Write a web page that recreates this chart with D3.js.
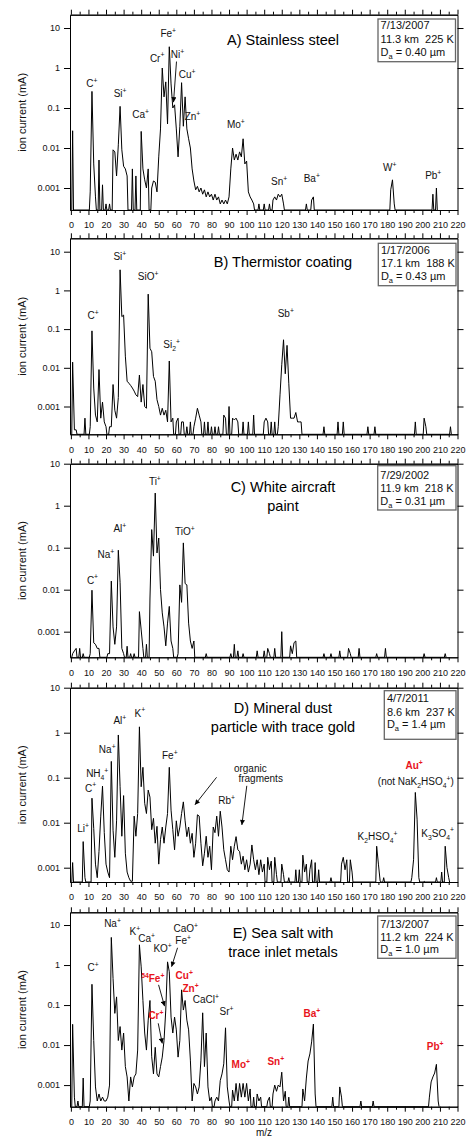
<!DOCTYPE html>
<html>
<head>
<meta charset="utf-8">
<script src="https://cdn.jsdelivr.net/npm/d3@7"></script>
<style>
body { margin: 0; background: #fff; }
text { font-family: "Liberation Sans", Arial, sans-serif; white-space: pre; }
</style>
</head>
<body>
<div id="chart"></div>
<script>
//Width and height
var w = 466;
var h = 1142;
var red = "#e8141c";

//Axis ticks
var mzTicks = d3.range(0, 221, 10);
var mzMinor = d3.range(5, 220, 10);
var decades = [10, 1, 0.1, 0.01, 0.001];

//Spectra, [m/z, ion current mA] (missing m/z = below detection)
var specA = [[1,0.027],[11,0.0008],[12,0.26],[13,0.004],[14,0.0006],[16,0.005],[18,0.0012],[20,0.0004],[22,0.0004],
  [24,0.009],[25,0.008],[26,0.002],[27,0.012],[28,0.11],[29,0.009],[30,0.0035],[31,0.003],[32,0.002],[35,0.003],[37,0.002],
  [40,0.026],[41,0.003],[42,0.0016],[43,0.001],[44,0.003],[46,0.001],[47,0.0015],[48,0.0014],[49,0.0008],[50,0.006],
  [51,0.03],[52,1.0],[53,0.19],[54,0.45],[55,0.04],[56,3.4],[57,0.4],[58,0.1],[59,0.12],[60,0.03],[61,0.006],[62,0.035],
  [63,0.43],[64,0.035],[65,0.19],[66,0.03],[67,0.017],[68,0.01],[69,0.003],[70,0.0015],[71,0.0009],[72,0.0011],[73,0.0008],
  [74,0.001],[75,0.0007],[76,0.0009],[77,0.0006],[78,0.0008],[79,0.0006],[80,0.0007],[81,0.0005],[82,0.0007],[83,0.0005],
  [84,0.0006],[85,0.0004],[86,0.0005],[87,0.0004],[88,0.0005],[89,0.0004],[90,0.0006],[91,0.003],[92,0.01],[93,0.005],
  [94,0.007],[95,0.005],[96,0.008],[97,0.006],[98,0.017],[99,0.004],[100,0.0047],[101,0.0008],[102,0.0006],[103,0.0005],
  [104,0.0004],[107,0.0004],[110,0.0004],[113,0.0004],[115,0.0005],[116,0.0006],[117,0.0005],[118,0.0007],[119,0.0006],
  [120,0.0007],[121,0.0004],[134,0.0004],[137,0.0005],[138,0.0006],[182,0.0009],[183,0.0016],[184,0.0004],[206,0.0007],[208,0.001]];

var specB = [[1,0.014],[2,0.00025],[3,0.00025],[8,0.0005],[11,0.0003],[12,0.09],[13,0.003],[14,0.0006],[15,0.0004],[16,0.009],
  [17,0.0005],[18,0.0013],[19,0.0004],[20,0.0003],[22,0.0003],[23,0.0003],[24,0.0037],[25,0.0008],[26,0.0005],[27,0.0017],
  [28,3.4],[29,0.21],[30,0.23],[31,0.02],[32,0.0045],[33,0.004],[34,0.0035],[35,0.003],[36,0.0025],[37,0.002],[38,0.0018],
  [39,0.0065],[40,0.0013],[41,0.0037],[42,0.001],[43,0.0009],[44,0.8],[45,0.032],[46,0.026],[47,0.006],[48,0.0045],
  [49,0.0015],[50,0.001],[51,0.0006],[52,0.0009],[53,0.0006],[54,0.0008],[55,0.0004],[56,0.015],[57,0.0004],[58,0.0005],
  [60,0.0004],[61,0.0005],[63,0.0004],[64,0.0004],[66,0.0003],[68,0.0004],[70,0.0003],[71,0.0005],[72,0.0009],[73,0.0006],
  [74,0.0004],[76,0.0004],[78,0.0004],[80,0.0003],[82,0.0003],[84,0.0003],[87,0.0006],[88,0.0005],[90,0.001],[92,0.0005],
  [93,0.00045],[94,0.0005],[95,0.0004],[98,0.0004],[101,0.0004],[104,0.0006],[110,0.0004],[111,0.0005],[112,0.0004],
  [114,0.0004],[116,0.0004],[118,0.0003],[119,0.002],[120,0.012],[121,0.053],[122,0.007],[123,0.038],[124,0.004],[125,0.0005],
  [126,0.0005],[127,0.0005],[128,0.0007],[129,0.0004],[130,0.0004],[131,0.0004],[144,0.0003],[152,0.0004],[155,0.0004],
  [169,0.0003],[173,0.0003],[196,0.0004],[201,0.0005],[202,0.0003],[216,0.0003]];

var specC = [[1,0.0003],[2,0.00035],[3,0.0004],[5,0.0004],[7,0.0003],[11,0.0003],[12,0.0097],[13,0.00054],[14,0.0005],
  [15,0.0004],[16,0.0004],[21,0.0003],[22,0.0003],[23,0.016],[24,0.0013],[25,0.0005],[26,0.0013],[27,0.087],[28,0.015],
  [29,0.0004],[30,0.0003],[32,0.00045],[34,0.0003],[36,0.0003],[39,0.003],[40,0.0011],[41,0.0004],[43,0.0005],[45,0.006],
  [46,0.27],[47,0.063],[48,2.0],[49,0.075],[50,0.17],[51,0.01],[52,0.0028],[53,0.0013],[54,0.00046],[55,0.0016],[56,0.004],
  [57,0.0006],[58,0.0004],[61,0.0003],[62,0.013],[63,0.005],[64,0.13],[65,0.014],[66,0.013],[67,0.0016],[68,0.0006],
  [69,0.0004],[70,0.0006],[77,0.0003],[91,0.0003],[93,0.0005],[95,0.00035],[98,0.0003],[106,0.00035],[110,0.00035],
  [112,0.0004],[113,0.0003],[116,0.0004],[120,0.001],[125,0.00046],[126,0.0003],[127,0.00055],[128,0.0006],[144,0.0003],
  [148,0.0003],[153,0.00035],[158,0.0004],[159,0.0003],[164,0.0004],[174,0.0003],[179,0.0004],[201,0.0003],[213,0.0003]];

var specD = [[1,0.0013],[7,0.0038],[8,0.0006],[12,0.035],[13,0.0075],[14,0.0012],[15,0.0006],[16,0.0023],[17,0.014],
  [18,0.065],[19,0.006],[20,0.0012],[21,0.0008],[22,0.0006],[23,0.23],[24,0.0068],[25,0.0017],[26,0.011],[27,0.89],
  [28,0.063],[29,0.005],[30,0.04],[31,0.0021],[32,0.0008],[33,0.0006],[34,0.0005],[35,0.0005],[36,0.014],[37,0.005],
  [38,0.016],[39,1.35],[40,0.063],[41,0.17],[42,0.027],[43,0.016],[44,0.053],[45,0.037],[46,0.007],[47,0.0125],[48,0.0035],
  [49,0.0083],[50,0.0012],[51,0.0042],[52,0.008],[53,0.0035],[54,0.008],[55,0.016],[56,0.17],[57,0.019],[58,0.007],
  [59,0.0025],[60,0.011],[61,0.005],[62,0.008],[63,0.016],[64,0.029],[65,0.011],[66,0.0049],[67,0.008],[68,0.0035],
  [69,0.0058],[70,0.0017],[71,0.0035],[72,0.015],[73,0.014],[74,0.0035],[75,0.0011],[76,0.0021],[77,0.005],[78,0.0017],
  [79,0.003],[80,0.0009],[81,0.008],[82,0.006],[83,0.014],[84,0.005],[85,0.018],[86,0.008],[87,0.0025],[88,0.0015],
  [89,0.0009],[90,0.0008],[91,0.003],[92,0.0015],[93,0.003],[94,0.0049],[95,0.0025],[96,0.0023],[97,0.0012],[98,0.0018],
  [99,0.0009],[100,0.0015],[101,0.0008],[102,0.0012],[103,0.0032],[104,0.0015],[105,0.0009],[106,0.0015],[107,0.0007],
  [108,0.0015],[109,0.0008],[110,0.0012],[112,0.0017],[113,0.0009],[114,0.0014],[116,0.0017],[117,0.0007],[120,0.0012],
  [121,0.0007],[124,0.0006],[128,0.0009],[130,0.0009],[132,0.0019],[133,0.0008],[134,0.0012],[136,0.0009],[137,0.0015],
  [139,0.0013],[141,0.0009],[148,0.0006],[154,0.0012],[155,0.0017],[156,0.0009],[157,0.0015],[159,0.0015],[160,0.0008],
  [174,0.003],[175,0.0012],[176,0.0005],[178,0.0006],[194,0.0006],[195,0.0015],[196,0.047],[197,0.012],[198,0.0006],
  [201,0.0005],[208,0.0006],[211,0.0008],[213,0.003],[214,0.001],[215,0.0006]];

var specE = [[1,0.033],[2,0.0005],[4,0.0004],[7,0.0015],[11,0.0004],[12,0.33],[13,0.013],[14,0.0009],[15,0.0004],[16,0.0006],
  [17,0.0004],[18,0.0005],[19,0.0004],[20,0.0004],[21,0.0005],[22,0.001],[23,4.9],[24,0.46],[25,0.062],[26,0.16],[27,0.013],
  [28,0.029],[29,0.0075],[30,0.02],[31,0.0029],[32,0.0016],[33,0.0004],[34,0.0016],[35,0.0009],[36,0.0016],[37,0.0019],
  [38,0.0075],[39,3.2],[40,0.9],[41,0.13],[42,0.02],[43,0.0075],[44,0.042],[45,0.13],[46,0.0051],[47,0.0019],[48,0.0088],
  [49,0.0019],[50,0.0016],[51,0.0029],[52,0.005],[53,0.013],[54,0.075],[55,1.2],[56,0.68],[57,0.05],[58,0.02],[59,0.05],
  [60,0.024],[61,0.005],[62,0.013],[63,0.24],[64,0.075],[65,0.13],[66,0.042],[67,0.024],[68,0.0042],[69,0.0004],[70,0.0011],
  [71,0.0009],[72,0.0006],[73,0.0009],[74,0.0042],[75,0.064],[76,0.0029],[77,0.02],[78,0.0009],[79,0.0004],[80,0.0005],
  [82,0.0004],[83,0.0005],[84,0.0004],[85,0.0013],[86,0.0019],[87,0.0034],[88,0.027],[89,0.0009],[90,0.0004],[92,0.00075],
  [93,0.0004],[94,0.0011],[95,0.0004],[96,0.0011],[97,0.0005],[98,0.0011],[99,0.0005],[100,0.0011],[101,0.0004],[102,0.0008],
  [104,0.0005],[106,0.0006],[107,0.0004],[108,0.0005],[112,0.0004],[113,0.0005],[115,0.0006],[116,0.001],[117,0.0007],
  [118,0.001],[119,0.0009],[120,0.0021],[121,0.0004],[122,0.0007],[124,0.0005],[132,0.0008],[133,0.0004],[134,0.0015],
  [135,0.004],[136,0.006],[137,0.012],[138,0.0335],[139,0.0006],[149,0.0005],[153,0.0009],[154,0.0005],[165,0.0004],
  [172,0.0004],[204,0.0005],[205,0.0012],[206,0.0016],[207,0.002],[208,0.0033],[209,0.0004]];

//Peak labels: text (^ superscript, _ subscript), anchor [m/z, mA], red = trace metal
var labelsA = [["C^+",12,0.34],["Si^+",28,0.19],["Ca^+",39.7,0.055],["Cr^+",49.1,1.45],["Fe^+",55.4,6],["Ni^+",60.7,1.75],
  ["Cu^+",66.2,0.55],["Zn^+",69.2,0.05],["Mo^+",93.9,0.031],["Sn^+",118.5,0.0012],["Ba^+",137.1,0.0014],
  ["W^+",181.5,0.0026],["Pb^+",206.2,0.0017]];
var labelsB = [["C^+",12.7,0.18],["Si^+",27.9,6.1],["SiO^+",44,1.86],["Si_2^+",57.3,0.032],["Sb^+",122.3,0.2]];
var labelsC = [["C^+",12.3,0.014],["Na^+",19.9,0.056],["Al^+",27.9,0.24],["Ti^+",47.8,3.1],["TiO^+",64.9,0.2]];
var labelsD = [["Li^+",7,0.0063],["C^+",11.2,0.049],["NH_4^+",15,0.105],["Na^+",20.7,0.35],["Al^+",27.9,1.54],
  ["K^+",39.3,2.28],["Fe^+",56.3,0.26],["organic",102.1,0.136],["fragments",108,0.079],["Rb^+",88.6,0.026],
  ["Au^+",195.3,0.156,"red"],["(not NaK_2HSO_4^+)",196.3,0.069],["K_2HSO_4^+",174.5,0.0041],["K_3SO_4^+",208.7,0.0049]];
var labelsE = [["C^+",12.7,0.72],["Na^+",23.7,8.8],["K^+",36.4,5.6],["Ca^+",43.1,3.8],["KO^+",52.2,2.15],["Fe^+",63.9,3.3],
  ["CaO^+",65.4,6.8],["^54Fe^+",46.6,0.38,"red"],["Cr^+",48.4,0.044,"red"],["Cu^+",64.5,0.45,"red"],["Zn^+",68.1,0.21,"red"],
  ["CaCl^+",76.8,0.11],["Sr^+",88.6,0.056],["Mo^+",96.7,0.0026,"red"],["Sn^+",116.6,0.0032,"red"],
  ["Ba^+",137.1,0.051,"red"],["Pb^+",207.3,0.0075,"red"]];

//Arrows: [from m/z, from mA, to m/z, to mA]
var arrowsA = [[60.1,1.45,58.4,0.14]];
var arrowsD = [[82.9,0.102,70.6,0.025],[100.1,0.066,97.3,0.0089]];
var arrowsE = [[60.7,2.7,57.3,0.91],[49.9,0.32,53.3,0.094],[49.7,0.035,52,0.011]];

//Titles and sampling info
var titleA = ["A) Stainless steel"];
var titleB = ["B) Thermistor coating"];
var titleC = ["C) White aircraft", "paint"];
var titleD = ["D) Mineral dust", "particle with trace gold"];
var titleE = ["E) Sea salt with", "trace inlet metals"];
var infoA = ["7/13/2007", "11.3 km  225 K", "D_a = 0.40 µm"];
var infoB = ["1/17/2006", "17.1 km  188 K", "D_a = 0.43 µm"];
var infoC = ["7/29/2002", "11.9 km  218 K", "D_a = 0.31 µm"];
var infoD = ["4/7/2011", "8.6 km  237 K", "D_a = 1.4 µm"];
var infoE = ["7/13/2007", "11.2 km  224 K", "D_a = 1.0 µm"];

//Panel layout (pixels) and log10 extent of the y axis
var panels = [
  {spec: specA, labels: labelsA, arrows: arrowsA, title: titleA, info: infoA, top: 14.7, bottom: 210, logTop: 1.333, logBot: -3.55,
   titleY: [30.5], box: [378, 4.3, 77.5, 42.7], infoY: [14.3, 28.2, 41.2]},
  {spec: specB, labels: labelsB, arrows: [], title: titleB, info: infoB, top: 238.3, bottom: 434.3, logTop: 1.346, logBot: -3.718,
   titleY: [28.4], box: [378.3, 5, 77.7, 42.4], infoY: [15.7, 29, 41.7]},
  {spec: specC, labels: labelsC, arrows: [], title: titleC, info: infoC, top: 463.7, bottom: 657.3, logTop: 1, logBot: -3.61,
   titleY: [28, 47], box: [377.7, 2, 78.3, 44.3], infoY: [15.3, 27.8, 41]},
  {spec: specD, labels: labelsD, arrows: arrowsD, title: titleD, info: infoD, top: 687.7, bottom: 882, logTop: 1, logBot: -3.318,
   titleY: [25.3, 44.3], box: [384.3, 3, 71.7, 48.6], infoY: [14.6, 28, 39.8]},
  {spec: specE, labels: labelsE, arrows: arrowsE, title: titleE, info: infoE, top: 912.3, bottom: 1106.7, logTop: 1.318, logBot: -3.54,
   titleY: [25.7, 44.7], box: [377.7, 3.7, 78.3, 42.3], infoY: [15.7, 28.4, 40.7]}
];

//Create SVG element
var svg = d3.select("#chart")
  .append("svg")
  .attr("width", w)
  .attr("height", h);

svg.append("defs").append("marker")
  .attr("id", "arrow")
  .attr("viewBox", "0 0 10 10")
  .attr("refX", 10)
  .attr("refY", 5)
  .attr("markerWidth", 7)
  .attr("markerHeight", 5)
  .attr("markerUnits", "userSpaceOnUse")
  .attr("orient", "auto")
  .append("path")
  .attr("d", "M0,0L10,5L0,10z")
  .attr("fill", "black");

var x = d3.scaleLinear().domain([-0.5, 220]).range([70, 457.5]);

//Write text with ^superscript and _subscript parts
function richText(sel, str, fs) {
  var parts = str.split(/([_^][0-9a-z+]+)/).filter(function(s) { return s.length; });
  var shift = 0;
  parts.forEach(function(s) {
    var kind = s[0] == "^" ? "sup" : (s[0] == "_" ? "sub" : "n");
    var target = kind == "sup" ? -0.42 * fs : (kind == "sub" ? 0.3 * fs : 0);
    sel.append("tspan")
      .attr("dy", target - shift)
      .attr("font-size", kind == "n" ? fs : fs * 0.68)
      .text(kind == "n" ? s : s.slice(1));
    shift = target;
  });
}

//Drop to baseline between non-adjacent m/z
function trace(spec) {
  var pts = [];
  spec.forEach(function(p, i) {
    var prev = spec[i - 1], next = spec[i + 1];
    if (!prev || p[0] - prev[0] > 1) pts.push([p[0] - 0.5, 0]);
    pts.push(p);
    if (!next || next[0] - p[0] > 1) pts.push([p[0] + 0.5, 0]);
  });
  return pts;
}

function styleAxis(g) {
  g.attr("font-size", 9).attr("font-family", "'Liberation Sans', Arial, sans-serif");
  g.selectAll("path, line").attr("stroke", "#000");
  g.selectAll("text").attr("fill", "#111");
}

panels.forEach(function(p) {
  var y = d3.scaleLog()
    .domain([Math.pow(10, p.logBot), Math.pow(10, p.logTop)])
    .range([p.bottom, p.top]);
  var yMin = y.domain()[0];
  var g = svg.append("g");

  //Spectrum trace
  var line = d3.line()
    .x(function(d) { return x(d[0]); })
    .y(function(d) { return y(Math.max(d[1], yMin)); });
  g.append("path")
    .datum(trace(p.spec))
    .attr("d", line)
    .attr("fill", "none")
    .attr("stroke", "#000")
    .attr("stroke-width", 1)
    .attr("stroke-linejoin", "round");

  //Axes on all four sides
  g.append("g").attr("transform", "translate(0," + p.bottom + ")")
    .call(d3.axisBottom(x).tickValues(mzTicks).tickSize(5).tickSizeOuter(0).tickPadding(7)).call(styleAxis);
  g.append("g").attr("transform", "translate(0," + p.bottom + ")")
    .call(d3.axisBottom(x).tickValues(mzMinor).tickSize(3).tickSizeOuter(0).tickFormat("")).call(styleAxis);
  g.append("g").attr("transform", "translate(0," + p.top + ")")
    .call(d3.axisTop(x).tickValues(mzTicks).tickSize(5).tickSizeOuter(0).tickFormat("")).call(styleAxis);
  g.append("g").attr("transform", "translate(0," + p.top + ")")
    .call(d3.axisTop(x).tickValues(mzMinor).tickSize(3).tickSizeOuter(0).tickFormat("")).call(styleAxis);
  g.append("g").attr("transform", "translate(" + x.range()[0] + ",0)")
    .call(d3.axisLeft(y).tickValues(decades).tickSize(6).tickSizeOuter(0).tickPadding(4).tickFormat(d3.format("~g"))).call(styleAxis);
  g.append("g").attr("transform", "translate(" + x.range()[1] + ",0)")
    .call(d3.axisRight(y).tickValues(decades).tickSize(6).tickSizeOuter(0).tickFormat("")).call(styleAxis);

  //Y axis title
  g.append("text")
    .attr("transform", "translate(22," + (p.top + p.bottom) / 2 + ") rotate(-90)")
    .attr("text-anchor", "middle")
    .attr("dy", "0.35em")
    .attr("font-size", 11)
    .attr("fill", "#111")
    .text("ion current (mA)");

  //Panel title
  p.title.forEach(function(t, i) {
    g.append("text")
      .attr("x", 283)
      .attr("y", p.top + p.titleY[i])
      .attr("text-anchor", "middle")
      .attr("font-size", 14.5)
      .attr("fill", "#000")
      .text(t);
  });

  //Sampling info box
  g.append("rect")
    .attr("x", p.box[0])
    .attr("y", p.top + p.box[1])
    .attr("width", p.box[2])
    .attr("height", p.box[3])
    .attr("fill", "white")
    .attr("stroke", "#666")
    .attr("stroke-width", 1.3);
  p.info.forEach(function(t, i) {
    var txt = g.append("text")
      .attr("x", p.box[0] + 2.6)
      .attr("y", p.top + p.infoY[i])
      .attr("font-size", 11)
      .attr("fill", "#111");
    richText(txt, t, 11);
  });

  //Peak labels
  p.labels.forEach(function(l) {
    var isRed = l[3] == "red";
    var txt = g.append("text")
      .attr("x", x(l[1]))
      .attr("y", y(l[2]))
      .attr("text-anchor", "middle")
      .attr("font-weight", isRed ? "bold" : "normal")
      .attr("fill", isRed ? red : "#111");
    richText(txt, l[0], 10);
  });

  //Arrows
  p.arrows.forEach(function(a) {
    g.append("line")
      .attr("x1", x(a[0])).attr("y1", y(a[1]))
      .attr("x2", x(a[2])).attr("y2", y(a[3]))
      .attr("stroke", "#000")
      .attr("stroke-width", 0.9)
      .attr("marker-end", "url(#arrow)");
  });
});

//X axis title
svg.append("text")
  .attr("x", 264)
  .attr("y", 1136)
  .attr("text-anchor", "middle")
  .attr("font-size", 10)
  .attr("fill", "#111")
  .text("m/z");
</script>
</body>
</html>
